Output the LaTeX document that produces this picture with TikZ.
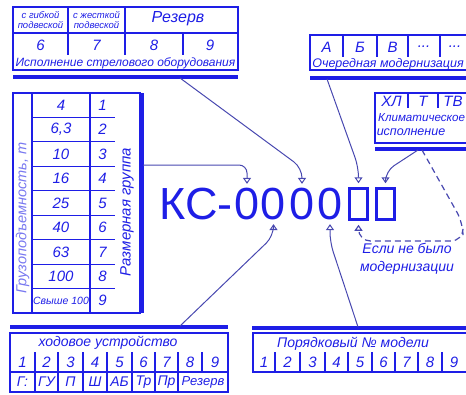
\documentclass[tikz,border=0pt]{standalone}
\usepackage{fontspec}
\setmainfont{Liberation Sans}
\usetikzlibrary{arrows.meta}
\definecolor{inkblue}{HTML}{1E1EE6}
\definecolor{leadblue}{HTML}{4848B0}

\begin{document}
\begin{tikzpicture}[
    x=1pt, y=-1pt,
    frame/.style={draw=inkblue, line width=1.6pt},
    rule/.style={draw=inkblue, line width=1.1pt},
    bar/.style={draw=inkblue, line width=3.5pt},
    lbl/.style={text=inkblue, font=\itshape\fontsize{12}{13}\selectfont, inner sep=0pt},
    num/.style={text=inkblue, font=\itshape\fontsize{15}{15}\selectfont, inner sep=0pt},
    tiny/.style={text=inkblue, font=\itshape\fontsize{9.5}{10.5}\selectfont, align=center, inner sep=0pt},
    big/.style={text=inkblue, font=\fontsize{45}{45}\selectfont, inner sep=0pt},
    slot/.style={draw=inkblue, line width=2.5pt, minimum width=18pt, minimum height=31pt, inner sep=0pt},
    arr/.style={draw=leadblue, line width=1pt, shorten >=4pt, -{Triangle[open, length=6pt, width=8pt]}},
]
\useasboundingbox (0,0) rectangle (466,394);
\clip (0,0) rectangle (466,394);

% boom equipment
\draw[frame] (13,7) rectangle (238,70);
\draw[rule] (13,33) -- (238,33);
\draw[rule] (68,7) -- (68,55) (125,7) -- (125,55) (183,33) -- (183,55);
\node[tiny] (gib) at (40.5,20) {с гибкой\\подвеской};
\node[tiny] (zhes) at (96.5,20) {с жесткой\\подвеской};
\node[num, font=\itshape\fontsize{16}{16}\selectfont] (rez) at (178,19) {Резерв};
\foreach \n/\x in {6/40.5, 7/96.5, 8/154, 9/210}
  \node[num] (st\n) at (\x,45) {\n};
\node[lbl, font=\itshape\fontsize{12}{13}\selectfont] (isp) at (125.5,63) {Исполнение стрелового оборудования};
\draw[bar] (13,77) -- (238,77);
\coordinate (ls) at (180,78);

% modernisation
\draw[frame] (310,35) rectangle (475,70);
\foreach \x in {343,377,408,440}
  \draw[rule] (\x,35) -- (\x,57);
\node[num] (ma) at (326.5,47) {А};
\node[num] (mb) at (360,47) {Б};
\node[num] (mv) at (392.5,47) {В};
\node[num] (md) at (424,47) {...};
\node[num] (me) at (455,47) {...};
\node[lbl, font=\itshape\fontsize{12.5}{13}\selectfont] (och) at (388,64) {Очередная модернизация};
\draw[bar] (310,78) -- (475,78);
\coordinate (lm) at (327,79);

% climate
\draw[frame] (375,93) rectangle (475,143);
\draw[rule] (408,93) -- (408,108) (438,93) -- (438,108);
\node[num] (hl) at (391.5,101) {ХЛ};
\node[num] (tr) at (423,101) {Т};
\node[num] (tv) at (453,101) {ТВ};
\node[lbl, anchor=west, font=\itshape\fontsize{11.6}{12}\selectfont] (klim) at (378,118) {Климатическое};
\node[lbl, font=\itshape\fontsize{12.5}{13}\selectfont] (kisp) at (411,132) {исполнение};
\draw[bar] (375,149) -- (475,149);
\coordinate (lc) at (418,150);
\coordinate (ld) at (422,150);

% lifting capacity
\draw[frame] (13,93) rectangle (140,313);
\draw[rule] (32,93) -- (32,313) (90,93) -- (90,313);
\foreach \i in {1,...,8}
  \draw[rule] (32,{93+24.44*\i}) -- (115,{93+24.44*\i});
\foreach \v [count=\i] in {4,{6,3},10,16,25,40,63,100}
  \node[num] (gv\i) at (61,{93+24.44*(\i-0.5)}) {\v};
\node[num, font=\itshape\fontsize{10.5}{11}\selectfont] (gv9) at (61,{93+24.44*8.5}) {Свыше 100};
\foreach \i in {1,...,9}
  \node[num] (gs\i) at (102.5,{93+24.44*(\i-0.5)}) {\i};
\node[lbl, rotate=90, text=inkblue!60, font=\itshape\fontsize{14.5}{15}\selectfont] (gruz) at (22.5,218) {Грузоподъемность, т};
\node[lbl, rotate=90, font=\itshape\fontsize{15}{15}\selectfont] (razm) at (127,212) {Размерная группа};
\draw[bar] (142,93) -- (142,313);
\coordinate (lg) at (143,165);

% running gear
\draw[bar] (10,327) -- (228,327);
\coordinate (lh) at (180,326);
\draw[frame] (10,333) rectangle (228,392);
\node[lbl, font=\itshape\fontsize{14}{14}\selectfont] (hod) at (108,343) {ходовое устройство};
\foreach \x in {35,58,83,107,132,155,178,202}
  \draw[rule] (\x,352) -- (\x,372);
\foreach \x in {35,58,83,107,132,155,178}
  \draw[rule] (\x,372) -- (\x,392);
\draw[rule] (10,372) -- (228,372);
\foreach \x [count=\i] in {22.5,46.5,70.5,95,119.5,143.5,166.5,190,215}
  \node[num] (hn\i) at (\x,362) {\i};
\foreach \t/\x [count=\i] in {Г:/22.5, ГУ/46.5, П/70.5, Ш/95, АБ/119.5, Тр/143.5, Пр/166.5}
  \node[num, font=\itshape\fontsize{14}{14}\selectfont] (hc\i) at (\x,382) {\t};
\node[num, font=\itshape\fontsize{13}{13}\selectfont] (hc8) at (203,382) {Резерв};

% model number
\draw[bar] (252,328) -- (475,328);
\coordinate (lp) at (358,327);
\draw[frame] (253,333) rectangle (475,372);
\node[lbl, font=\itshape\fontsize{14}{14}\selectfont] (por) at (353,344) {Порядковый № модели};
\foreach \x in {275,300,325,348,372,395,418,442}
  \draw[rule] (\x,352) -- (\x,372);
\foreach \x [count=\i] in {264,287.5,312.5,336.5,360,383.5,406.5,430,454}
  \node[num] (pn\i) at (\x,362) {\i};

% designation
\node[big, anchor=east] (kc) at (233,204) {КС-};
\foreach \x [count=\i] in {247,273.5,302,330}
  \node[big] (z\i) at (\x,204) {0};
\node[slot] (m1) at (358.5,204) {};
\node[slot] (m2) at (385.5,204) {};
\coordinate (dk) at (463,241);
\node[lbl, align=center, font=\itshape\fontsize{14}{18}\selectfont] (esli) at (407,259) {Если не было\\модернизации};

\draw[arr, rounded corners=8pt] (lg) -| (z1.north);
\draw[arr, rounded corners=10pt] (ls) -- ([yshift=20pt]z3.north) -- (z3.north);
\draw[arr, rounded corners=10pt] (lm) -- ([yshift=20pt]m1.north) -- (m1.north);
\draw[arr, rounded corners=10pt] (lc) -- ([yshift=16pt]m2.north) -- (m2.north);
\draw[arr, rounded corners=10pt] (lh) -- ([yshift=-16pt]z2.south) -- (z2.south);
\draw[arr, rounded corners=10pt] (lp) -- ([yshift=-22pt]z4.south) -- (z4.south);
\draw[arr, line width=1.2pt, dash pattern=on 6pt off 4pt, rounded corners=12pt] (ld) -- ([yshift=18pt]dk) -- (dk) -| (m1.south);
\end{tikzpicture}
\end{document}
